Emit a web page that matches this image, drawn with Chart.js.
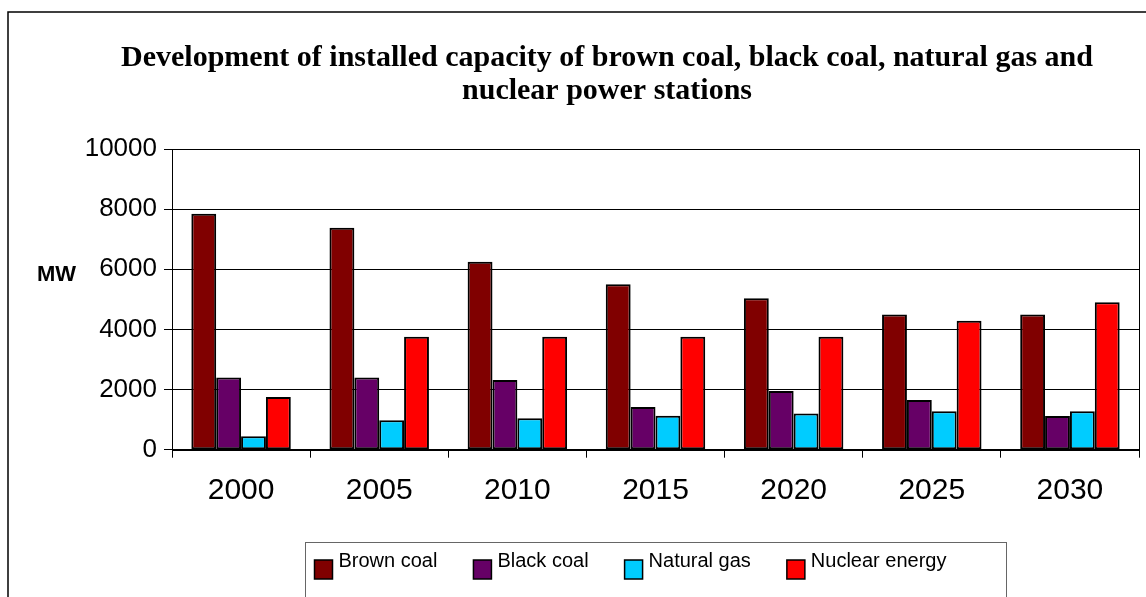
<!DOCTYPE html>
<html>
<head>
<meta charset="utf-8">
<title>Installed capacity of power stations</title>
<script src="https://cdn.jsdelivr.net/npm/chart.js@4.4.1/dist/chart.umd.min.js"></script>
<style>
    html, body { margin: 0; padding: 0; background: #ffffff; }
    #wrap { width: 1146px; height: 597px; position: relative; }
</style>
</head>
<body>
<div id="wrap"><canvas id="capacityChart" width="1146" height="597"></canvas></div>
<script>
// Chart data (MW)
const years = ['2000', '2005', '2010', '2015', '2020', '2025', '2030'];
const brownCoal = [7850, 7380, 6250, 5500, 5040, 4500, 4500];
const blackCoal = [2400, 2400, 2320, 1420, 1950, 1650, 1120];
const naturalGas = [450, 980, 1050, 1130, 1200, 1280, 1280];
const nuclearEnergy = [1750, 3760, 3760, 3760, 3760, 4290, 4900];
const yTickValues = [0, 2000, 4000, 6000, 8000, 10000];
const titleLines = [
    'Development of installed capacity of brown coal, black coal, natural gas and',
    'nuclear power stations'
];
const unitLabel = 'MW';

const SANS = "'Liberation Sans', Arial, sans-serif";
const SERIF = "'Liberation Serif', 'Times New Roman', serif";

// Outer frame, plot border, unit label and the boxed legend
const decorPlugin = {
    id: 'decor',
    beforeDraw(chart) {
        const ctx = chart.ctx;
        ctx.save();
        ctx.fillStyle = '#ffffff';
        ctx.fillRect(0, 0, chart.width, chart.height);
        ctx.strokeStyle = '#000000';
        ctx.lineWidth = 1.5;
        ctx.strokeRect(8, 12, chart.width + 20, chart.height + 20);
        ctx.restore();
    },
    afterDraw(chart) {
        const ctx = chart.ctx;
        const area = chart.chartArea;
        ctx.save();

        // plot border
        ctx.strokeStyle = '#000000';
        ctx.lineWidth = 1;
        ctx.strokeRect(Math.round(area.left) + 0.5, Math.round(area.top) + 0.5,
            Math.round(area.right - area.left), Math.round(area.bottom - area.top));

        // unit label, not rotated
        const y = chart.scales.y;
        ctx.fillStyle = '#000000';
        ctx.font = 'bold 22px ' + SANS;
        ctx.textBaseline = 'middle';
        ctx.textAlign = 'left';
        ctx.fillText(unitLabel, 37, y.getPixelForValue(6000) + 6);

        // legend frame
        ctx.strokeStyle = '#666666';
        ctx.lineWidth = 1;
        ctx.strokeRect(305.5, 542.5, 701, 80);

        // legend items
        ctx.font = '20px ' + SANS;
        ctx.textBaseline = 'alphabetic';
        let x = 314.5;
        chart.data.datasets.forEach(function(ds) {
            ctx.fillStyle = ds.backgroundColor;
            ctx.fillRect(x, 560, 18, 19);
            ctx.strokeStyle = '#000000';
            ctx.lineWidth = 1.5;
            ctx.strokeRect(x, 560, 18, 19);
            ctx.fillStyle = '#000000';
            ctx.fillText(ds.label, x + 24, 567);
            x += 24 + ctx.measureText(ds.label).width + 36;
        });
        ctx.restore();
    }
};

function makeDataset(label, values, color) {
    return {
        label: label,
        data: values,
        backgroundColor: color,
        borderColor: '#000000',
        borderWidth: 2,
        borderSkipped: false,
        barPercentage: 1.0,
        categoryPercentage: 0.72
    };
}

document.addEventListener('DOMContentLoaded', function() {
    const ctx = document.getElementById('capacityChart').getContext('2d');

    new Chart(ctx, {
        type: 'bar',
        data: {
            labels: years,
            datasets: [
                makeDataset('Brown coal', brownCoal, '#800000'),
                makeDataset('Black coal', blackCoal, '#660066'),
                makeDataset('Natural gas', naturalGas, '#00CCFF'),
                makeDataset('Nuclear energy', nuclearEnergy, '#FF0000')
            ]
        },
        options: {
            responsive: false,
            animation: false,
            devicePixelRatio: 1,
            layout: {
                padding: { left: 75, right: 7, top: 12, bottom: 73.3 }
            },
            scales: {
                x: {
                    grid: {
                        offset: true,
                        drawOnChartArea: false,
                        drawTicks: true,
                        tickLength: 8,
                        color: '#000000'
                    },
                    border: { color: '#000000', width: 1 },
                    ticks: {
                        color: '#000000',
                        padding: 15,
                        maxRotation: 0,
                        font: { family: SANS, size: 30 }
                    }
                },
                y: {
                    min: 0,
                    max: 10000,
                    afterBuildTicks: function(scale) {
                        scale.ticks = yTickValues.map(function(v) { return { value: v }; });
                    },
                    afterFit: function(scale) {
                        scale.width = 97;
                    },
                    grid: {
                        color: '#000000',
                        lineWidth: 1,
                        tickLength: 8
                    },
                    border: { color: '#000000', width: 1 },
                    ticks: {
                        color: '#000000',
                        padding: 7,
                        font: { family: SANS, size: 26 },
                        callback: function(value) { return String(value); }
                    }
                }
            },
            plugins: {
                legend: { display: false },
                tooltip: { enabled: false },
                title: {
                    display: true,
                    text: titleLines,
                    color: '#000000',
                    font: { family: SERIF, size: 30, weight: 'bold', lineHeight: 33 / 30 },
                    padding: { top: 29.5, bottom: 41.5 }
                }
            }
        },
        plugins: [decorPlugin]
    });
});
</script>
</body>
</html>
